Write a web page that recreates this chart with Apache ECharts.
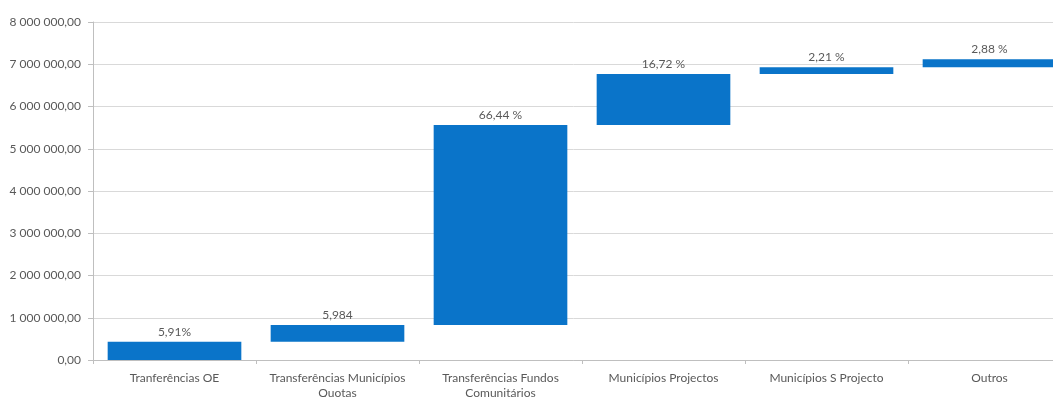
<!DOCTYPE html>
<html>
<head>
<meta charset="utf-8">
<script src="https://cdn.jsdelivr.net/npm/echarts@6/dist/echarts.min.js"></script>
<style>
html,body{margin:0;padding:0;background:#fff;}
#chart{width:1053px;height:397px;}
</style>
</head>
<body>
<div id="chart"></div>
<script>
const categories = ['Tranferências OE', 'Transferências Municípios\nQuotas', 'Transferências Fundos\nComunitários', 'Municípios Projectos', 'Municípios S Projecto', 'Outros'];
const baseValues = [0, 430000, 830000, 5560000, 6770000, 6930000];
const barValues = [430000, 400000, 4730000, 1210000, 160000, 190000];
const barLabels = ['5,91%', '5,984', '66,44 %', '16,72 %', '2,21 %', '2,88 %'];
const yTicks = { min: 0, max: 8000000, interval: 1000000 };

function fmt(v) {
  const s = Math.round(v).toString().replace(/\B(?=(\d{3})+(?!\d))/g, ' ');
  return s + ',00';
}

const chart = echarts.init(document.getElementById('chart'), null, { renderer: 'canvas' });
const font = 'Lato, "Liberation Sans", sans-serif';
chart.setOption({
  animation: false,
  backgroundColor: '#ffffff',
  grid: { left: 93, top: 22, bottom: 37, right: -18, containLabel: false, outerBoundsMode: 'none' },
  xAxis: {
    type: 'category',
    data: categories,
    axisLine: { lineStyle: { color: '#bfbfbf', width: 1 } },
    axisTick: { show: true, length: 4, lineStyle: { color: '#bfbfbf' } },
    axisLabel: { color: '#595959', fontFamily: font, fontSize: 12, margin: 11, lineHeight: 15, interval: 0 }
  },
  yAxis: {
    type: 'value',
    min: yTicks.min, max: yTicks.max, interval: yTicks.interval,
    axisLine: { show: true, lineStyle: { color: '#bfbfbf', width: 1 } },
    axisTick: { show: true, length: 5, lineStyle: { color: '#bfbfbf' } },
    splitLine: { lineStyle: { color: '#d9d9d9', width: 1 } },
    axisLabel: { color: '#595959', fontFamily: font, fontSize: 12, margin: 12, formatter: fmt }
  },
  series: [
    {
      type: 'bar', stack: 'w', data: baseValues,
      itemStyle: { color: 'transparent' },
      barCategoryGap: '18%', silent: true
    },
    {
      type: 'bar', stack: 'w', data: barValues,
      itemStyle: { color: '#0a74c9' },
      barCategoryGap: '18%',
      label: {
        show: true, position: 'top', distance: 4,
        color: '#595959', fontFamily: font, fontSize: 12,
        formatter: p => barLabels[p.dataIndex]
      }
    }
  ]
});
</script>
</body>
</html>
